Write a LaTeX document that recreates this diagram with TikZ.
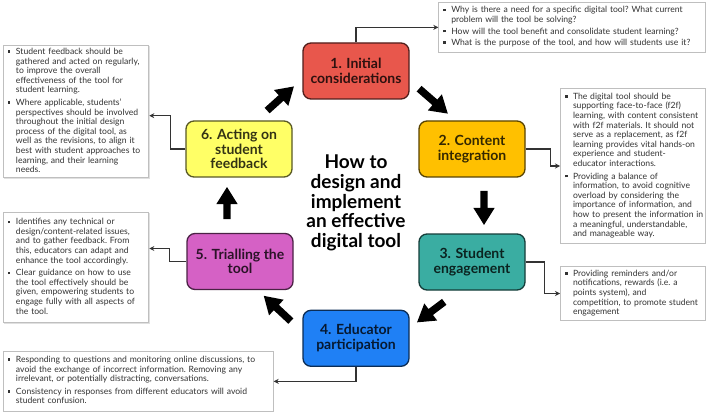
\documentclass[tikz,border=0pt]{standalone}
\usepackage{fontspec}
\setmainfont{Lato}
\usetikzlibrary{shapes.arrows,arrows.meta,shadows}
\definecolor{cone}{HTML}{E8574C}
\definecolor{ctwo}{HTML}{FFC000}
\definecolor{cthree}{HTML}{3AADA2}
\definecolor{cfour}{HTML}{1F80F5}
\definecolor{cfive}{HTML}{D561C5}
\definecolor{csix}{HTML}{FFFF66}
\definecolor{txtgray}{HTML}{333333}
\definecolor{calloutborder}{HTML}{BFBFBF}
\newcommand{\sqb}{\makebox[8pt][l]{\rule[1.7pt]{2.5pt}{2.5pt}}}
\newcommand{\smallfont}{\fontsize{8.6}{9.6}\selectfont\frenchspacing}
\begin{document}
\begin{tikzpicture}[x=1pt,y=-1pt,
  stepbox/.style={draw, rounded corners=8pt, line width=1.3pt, minimum width=106pt, minimum height=56pt, align=center, inner sep=2pt, font=\fontsize{14}{14.7}\selectfont\bfseries},
  callout/.style={draw=calloutborder, line width=1pt, fill=white, anchor=north west, inner xsep=4.5pt, inner ysep=0pt, font=\smallfont, text=txtgray, align=left,
    drop shadow={shadow xshift=0.8pt, shadow yshift=-0.8pt, fill=black!12, opacity=1}},
  blockarrow/.style={single arrow, fill=black, draw=none, inner xsep=0pt, inner ysep=3.5pt, minimum width=21pt, single arrow head extend=7pt, single arrow tip angle=64},
  conn/.style={draw=txtgray, line width=1.1pt, -{Stealth[length=5pt,width=5pt]}}
]
\path[fill=white, use as bounding box] (0,0) rectangle (709,414);

% callouts
\node[callout, minimum width=266.7pt, minimum height=50.3pt, text width=257.7pt] (cA) at (438.3,1.7) {%
\begin{tabular}{@{}l@{}l@{}}
\sqb & Why is there a need for a specific digital tool? What current\\
 & problem will the tool be solving?\\[2pt]
\sqb & How will the tool benefit and consolidate student learning?\\[2pt]
\sqb & What is the purpose of the tool, and how will students use it?
\end{tabular}};

\node[callout, minimum width=145pt, minimum height=155pt, text width=136pt] (cB) at (560,88) {%
\begin{tabular}{@{}l@{}l@{}}
\sqb & The digital tool should be\\
 & supporting face-to-face (f2f)\\
 & learning, with content consistent\\
 & with f2f materials. It should not\\
 & serve as a replacement, as f2f\\
 & learning provides vital hands-on\\
 & experience and student-\\
 & educator interactions.\\[3pt]
\sqb & Providing a balance of\\
 & information, to avoid cognitive\\
 & overload by considering the\\
 & importance of information, and\\
 & how to present the information in\\
 & a meaningful, understandable,\\
 & and manageable way.
\end{tabular}};

\node[callout, minimum width=145pt, minimum height=54pt, text width=136pt] (cC) at (560,266) {%
\begin{tabular}{@{}l@{}l@{}}
\sqb & Providing reminders and/or\\
 & notifications, rewards (i.e. a\\
 & points system), and\\
 & competition, to promote student\\
 & engagement
\end{tabular}};

\node[callout, minimum width=269.7pt, minimum height=60.3pt, text width=260.7pt] (cD) at (3,350.7) {%
\begin{tabular}{@{}l@{}l@{}}
\sqb & Responding to questions and monitoring online discussions, to\\
 & avoid the exchange of incorrect information. Removing any\\
 & irrelevant, or potentially distracting, conversations.\\[3pt]
\sqb & Consistency in responses from different educators will avoid\\
 & student confusion.
\end{tabular}};

\node[callout, minimum width=145.3pt, minimum height=110.6pt, text width=136.3pt] (cE) at (3,211.7) {%
\begin{tabular}{@{}l@{}l@{}}
\sqb & Identifies any technical or\\
 & design/content-related issues,\\
 & and to gather feedback. From\\
 & this, educators can adapt and\\
 & enhance the tool accordingly.\\[3pt]
\sqb & Clear guidance on how to use\\
 & the tool effectively should be\\
 & given, empowering students to\\
 & engage fully with all aspects of\\
 & the tool.
\end{tabular}};

\node[callout, minimum width=145.3pt, minimum height=132.3pt, text width=136.3pt] (cF) at (3,45) {%
\begin{tabular}{@{}l@{}l@{}}
\sqb & Student feedback should be\\
 & gathered and acted on regularly,\\
 & to improve the overall\\
 & effectiveness of the tool for\\
 & student learning.\\[3pt]
\sqb & Where applicable, students’\\
 & perspectives should be involved\\
 & throughout the initial design\\
 & process of the digital tool, as\\
 & well as the revisions, to align it\\
 & best with student approaches to\\
 & learning, and their learning\\
 & needs.
\end{tabular}};

% main steps
\node[stepbox, fill=cone, draw=cone!35!black, text=cone!20!black] (c1) at (356,71) {1. Initial\\considerations};
\node[stepbox, fill=ctwo, draw=ctwo!35!black, text=ctwo!20!black] (c2) at (472,149) {2. Content\\integration};
\node[stepbox, fill=cthree, draw=cthree!35!black, text=cthree!20!black] (c3) at (472,262) {3. Student\\engagement};
\node[stepbox, fill=cfour, draw=cfour!35!black, text=cfour!20!black] (c4) at (356,338.3) {4. Educator\\participation};
\node[stepbox, fill=cfive, draw=cfive!35!black, text=cfive!20!black] (c5) at (240,261.5) {5. Trialling the\\tool};
\node[stepbox, fill=csix, draw=csix!35!black, text=csix!20!black] (c6) at (239,149) {6. Acting on\\student\\feedback};

\node[font=\fontsize{19}{19.8}\selectfont\bfseries, align=center] (title) at (356,203) {How to\\design and\\implement\\an effective\\digital tool};

% block arrows
\node[blockarrow, minimum height=38pt, rotate=-41] (a12) at (431.2,99.2) {};
\node[blockarrow, minimum height=34pt, rotate=-90] (a23) at (484,205) {};
\node[blockarrow, minimum height=34pt, rotate=-143] (a34) at (433,310.3) {};
\node[blockarrow, minimum height=37pt, rotate=137] (a45) at (279.5,310.5) {};
\node[blockarrow, minimum height=32pt, rotate=90] (a56) at (227,206) {};
\node[blockarrow, minimum height=36pt, rotate=42] (a61) at (278.3,100.5) {};

% connectors
\draw[conn] (c1.north) |- (cA.west);
\draw[conn] (c2.east) -- ++(25,0) |- (cB.west);
\draw[conn] (c3.east) -- ++(19,0) |- (cC.west);
\draw[conn] (c4.south) |- (cD.east);
\draw[conn] (c5.west) -- ++(-17,0) |- ([yshift=19pt]cE.east);
\draw[conn] (c6.west) -- ++(-15,0) |- ([yshift=-4pt]cF.east);
\end{tikzpicture}
\end{document}
